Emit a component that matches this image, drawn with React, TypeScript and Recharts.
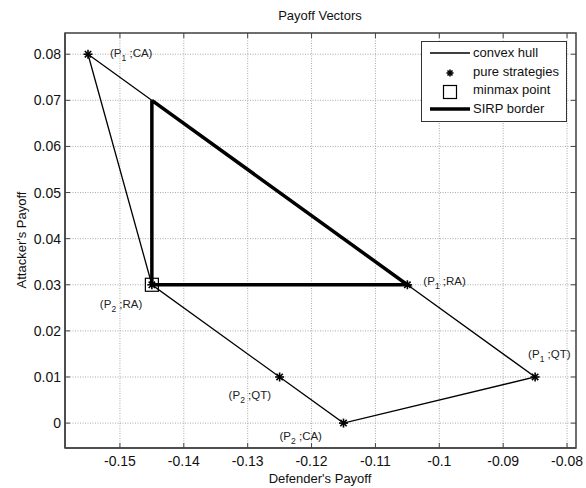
import { CartesianGrid, ComposedChart, Scatter, XAxis, YAxis, ReferenceArea, ReferenceLine } from "recharts"

// convex hull vertices, in drawing order (closed)
const hullX = [-0.155, -0.145, -0.125, -0.115, -0.085, -0.105, -0.155]
const hullY = [0.08, 0.03, 0.01, 0, 0.01, 0.03, 0.08]

// pure strategies
const pureNames = ["P1;CA", "P2;RA", "P2;QT", "P2;CA", "P1;QT", "P1;RA"]
const pureX = [-0.155, -0.145, -0.125, -0.115, -0.085, -0.105]
const pureY = [0.08, 0.03, 0.01, 0, 0.01, 0.03]

// SIRP border triangle (closed)
const sirpX = [-0.145, -0.145, -0.105, -0.145]
const sirpY = [0.07, 0.03, 0.03, 0.07]

const minmaxX = [-0.145]
const minmaxY = [0.03]

const xTicks = [-0.15, -0.14, -0.13, -0.12, -0.11, -0.1, -0.09, -0.08]
const yTicks = [0, 0.01, 0.02, 0.03, 0.04, 0.05, 0.06, 0.07, 0.08]

const hull = hullX.map((x, i) => ({ x, y: hullY[i] }))
const pure = pureX.map((x, i) => ({ x, y: pureY[i], name: pureNames[i] }))
const sirp = sirpX.map((x, i) => ({ x, y: sirpY[i] }))
const minmax = minmaxX.map((x, i) => ({ x, y: minmaxY[i] }))

const X_MIN = -0.1586
const X_MAX = -0.0786
const Y_MIN = -0.0054
const Y_MAX = 0.0846

// label offsets (px) of the text start / text middle from each point
const labelOffset: Record<string, [number, number]> = {
  "P1;CA": [22, -1],
  "P1;RA": [16, -4],
  "P1;QT": [-7, -23],
  "P2;RA": [-52, 19],
  "P2;QT": [-51, 18],
  "P2;CA": [-64, 13],
}

const FONT = "'Liberation Sans', Arial, sans-serif"

const fmt = (v: number) => String(Number(v.toFixed(3)))

function Asterisk(props: any) {
  const { cx, cy, payload } = props
  const r = 4.5
  const spokes = [0, 45, 90, 135].map((a) => {
    const rad = (a * Math.PI) / 180
    const dx = Math.cos(rad) * r
    const dy = Math.sin(rad) * r
    return <line key={a} x1={cx - dx} y1={cy - dy} x2={cx + dx} y2={cy + dy} stroke="#000" strokeWidth={1.6} />
  })
  const [p, s] = payload.name.split(";")
  const off = labelOffset[payload.name] || [10, 0]
  return (
    <g>
      {spokes}
      <text x={cx + off[0]} y={cy + off[1] + 4} fontSize={11.5} fontFamily={FONT} fill="#222">
        <tspan>({p[0]}</tspan>
        <tspan dy={4} fontSize={8.5}>{p[1]}</tspan>
        <tspan dy={-4}> ;{s})</tspan>
      </text>
    </g>
  )
}

function Square(props: any) {
  const { cx, cy } = props
  return <rect x={cx - 6.5} y={cy - 6.5} width={13} height={13} fill="none" stroke="#000" strokeWidth={1.2} />
}

const Empty = () => <g />

export default function App() {
  const xDomain: [number, number] = [X_MIN, X_MAX]
  const yDomain: [number, number] = [Y_MIN, Y_MAX]
  const tickStyle = { fontSize: 14, fontFamily: FONT, fill: "#111" }
  return (
    <div style={{ position: "absolute", left: 0, top: 0, width: 586, height: 488, background: "#fff", fontFamily: FONT, color: "#111" }}>
      <div style={{ position: "absolute", left: 220, width: 200, top: 8, textAlign: "center", fontSize: 13 }}>
        Payoff Vectors
      </div>
      <div style={{ position: "absolute", left: 220, width: 200, top: 471, textAlign: "center", fontSize: 13 }}>
        Defender's Payoff
      </div>
      <div style={{ position: "absolute", left: 22, top: 240, width: 0, height: 0 }}>
        <div style={{ position: "absolute", left: -80, top: -8, width: 160, textAlign: "center", fontSize: 13, transform: "rotate(-90deg)", lineHeight: "16px" }}>
          Attacker's Payoff
        </div>
      </div>
      <ComposedChart width={586} height={488} margin={{ top: 33, right: 10, bottom: 0, left: 0 }}>
        <CartesianGrid stroke="#aaa" strokeDasharray="1 1.5" />
        <XAxis
          type="number"
          dataKey="x"
          domain={xDomain}
          ticks={xTicks}
          tickFormatter={fmt}
          allowDataOverflow
          height={40}
          tickSize={-5}
          tickMargin={13}
          tick={tickStyle}
          stroke="#444"
          axisLine={{ stroke: "#444", strokeWidth: 1.5 }}
        />
        <YAxis
          type="number"
          dataKey="y"
          domain={yDomain}
          ticks={yTicks}
          tickFormatter={fmt}
          allowDataOverflow
          width={65}
          tickSize={-5}
          tickMargin={9}
          tick={tickStyle}
          stroke="#444"
          axisLine={{ stroke: "#444", strokeWidth: 1.5 }}
        />
        <ReferenceArea x1={X_MIN} x2={X_MAX} y1={Y_MIN} y2={Y_MAX} fill="none" fillOpacity={0} stroke="#444" strokeWidth={1.5} ifOverflow="visible" />
        {xTicks.map((t) => (
          <ReferenceLine key={"tx" + t} segment={[{ x: t, y: Y_MAX }, { x: t, y: Y_MAX - 0.0011 }]} stroke="#444" ifOverflow="visible" />
        ))}
        {yTicks.map((t) => (
          <ReferenceLine key={"ty" + t} segment={[{ x: X_MAX, y: t }, { x: X_MAX - 0.0008, y: t }]} stroke="#444" ifOverflow="visible" />
        ))}
        <Scatter data={hull} line={{ stroke: "#000", strokeWidth: 1.3 }} shape={Empty} isAnimationActive={false} />
        <Scatter data={sirp} line={{ stroke: "#000", strokeWidth: 3.5 }} shape={Empty} isAnimationActive={false} />
        <Scatter data={minmax} shape={Square} isAnimationActive={false} />
        <Scatter data={pure} shape={Asterisk} isAnimationActive={false} />
      </ComposedChart>
      <div style={{ position: "absolute", left: 421, top: 41, width: 146, height: 81, boxSizing: "border-box", border: "1px solid #333", background: "#fff", fontSize: 13 }}>
        <svg width={50} height={79} style={{ position: "absolute", left: 6, top: 0 }}>
          <line x1={2} y1={11} x2={42} y2={11} stroke="#000" strokeWidth={1.3} />
          {[0, 45, 90, 135].map((a) => {
            const rad = (a * Math.PI) / 180
            const dx = Math.cos(rad) * 3.5
            const dy = Math.sin(rad) * 3.5
            return <line key={a} x1={22 - dx} y1={31 - dy} x2={22 + dx} y2={31 + dy} stroke="#000" strokeWidth={1.6} />
          })}
          <rect x={15.5} y={43.5} width={13} height={13} fill="none" stroke="#000" strokeWidth={1.2} />
          <line x1={2} y1={67} x2={42} y2={67} stroke="#000" strokeWidth={3.5} />
        </svg>
        <div style={{ position: "absolute", left: 51, top: 2, lineHeight: "18.5px" }}>
          <div>convex hull</div>
          <div>pure strategies</div>
          <div>minmax point</div>
          <div>SIRP border</div>
        </div>
      </div>
    </div>
  )
}
